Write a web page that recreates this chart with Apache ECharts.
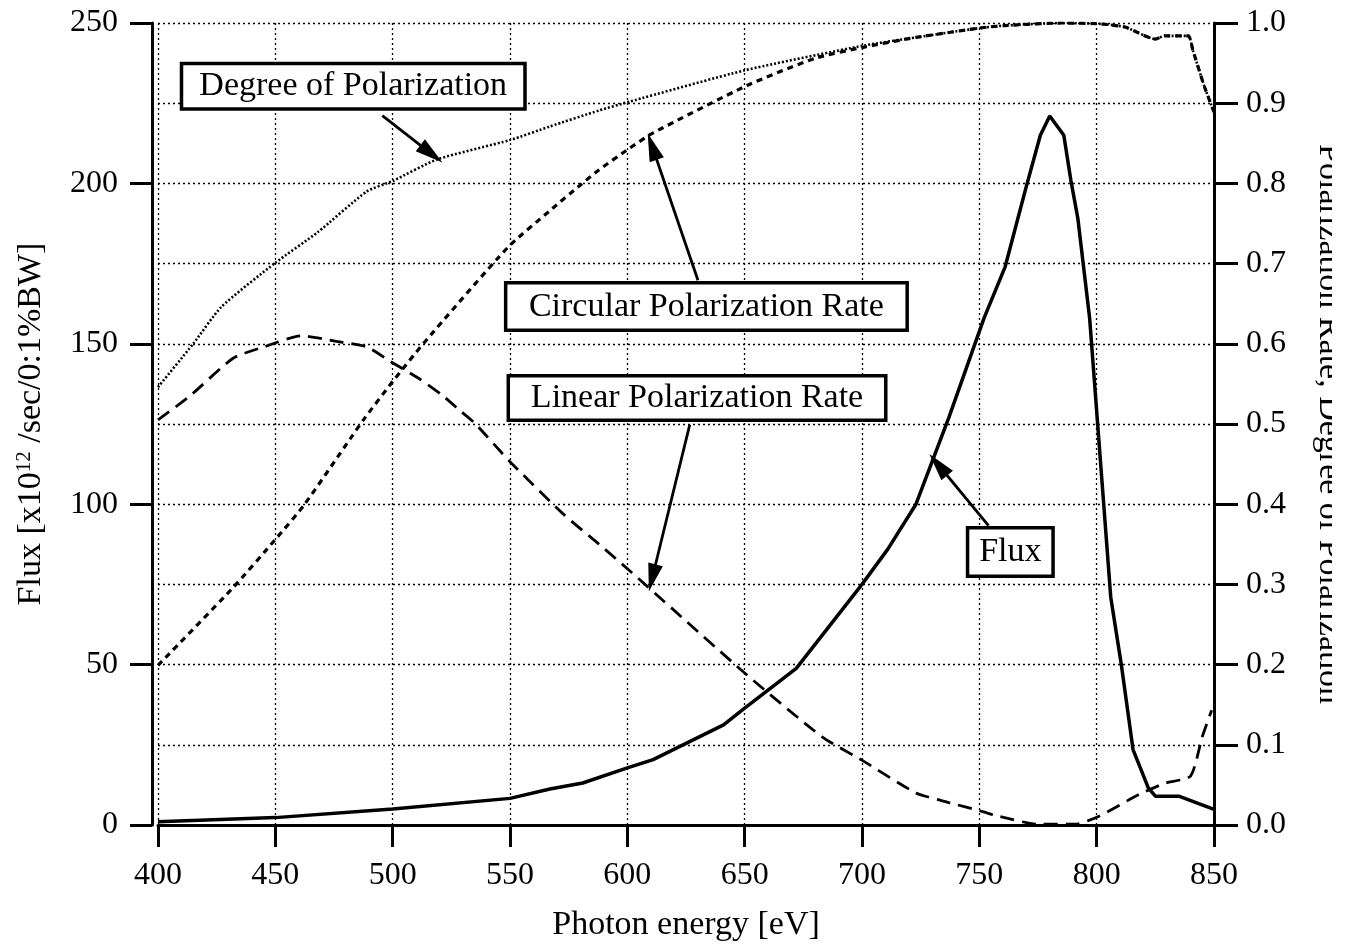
<!DOCTYPE html>
<html>
<head>
<meta charset="utf-8">
<script src="https://cdn.jsdelivr.net/npm/echarts@6/dist/echarts.min.js"></script>
<style>html,body{margin:0;padding:0;background:#fff;}#chart{width:1354px;height:947px;}</style>
</head>
<body>
<div id="chart"></div>
<script>
// ---- Data ----
const fluxEnergy = [400,450,500,550,567,581,600,611,641,650,672,700,711,723,737,752,761,770,776,780,786,789,792,797,806,810.5,815.5,822,825,835,850];
const fluxValues = [1,2.3,5,8.3,11.2,13.1,17.8,20.4,31.2,36.4,48.8,75,86,100,127,158,174,199,215,221,215,201,189,158,71,50,23.5,11.6,9,9,4.9];

const dopEnergy = [400,415,427,450,468,489,500,519,550,567,588,601,650,701,723,751,762,785,801,812,825,829,839,841,846,850];
const dopValues = [0.546,0.600,0.646,0.701,0.739,0.790,0.803,0.830,0.854,0.871,0.891,0.902,0.941,0.972,0.982,0.994,0.997,1.0,0.999,0.995,0.980,0.984,0.984,0.966,0.920,0.889];

const circEnergy = [400,432,450,462,482,488,500,513,549,567,580,588,601,611,651,680,701,723,751,762,785,801,812,825,829,839,841,846,850];
const circValues = [0.199,0.296,0.356,0.398,0.482,0.507,0.553,0.600,0.720,0.766,0.798,0.817,0.844,0.863,0.922,0.956,0.970,0.982,0.994,0.997,1.0,0.999,0.995,0.980,0.984,0.984,0.966,0.920,0.889];

const linEnergy = [400,414,432,445,461,476,489,499,511,521,529,535,550,573,588,601,651,683,701,723,737,751,758,775,791,801,818,829,840,845,849];
const linValues = [0.505,0.536,0.582,0.596,0.610,0.603,0.596,0.578,0.557,0.536,0.516,0.501,0.453,0.387,0.350,0.317,0.187,0.110,0.079,0.040,0.028,0.017,0.011,0.001,0.001,0.011,0.038,0.052,0.061,0.110,0.143];

const xTicks = [400,450,500,550,600,650,700,750,800,850];
const leftTicks = [0,50,100,150,200,250];
const rightTicks = [0.0,0.1,0.2,0.3,0.4,0.5,0.6,0.7,0.8,0.9,1.0];

// annotation labels, box centres and arrows in data units (x: eV, y: flux axis units)
const annotLabels = ['Degree of Polarization','Circular Polarization Rate','Linear Polarization Rate','Flux'];
const annotCenters = [[483.2,230.3],[633.7,161.6],[629.7,133.1],[763.2,85.1]];
const arrowFrom = [[495.6,221.1],[630.1,169.8],[626.6,124.8],[753.9,93.3]];
const arrowTo = [[516.5,209.2],[610.6,211.5],[610.6,77.0],[732.5,112.3]];

// ---- styles ----
const FONT = 'Liberation Serif';
const boxSizes = [[330,36],[388,38],[364,35],[72,39]];

const zip = (xs, ys) => xs.map((x, i) => [x, ys[i]]);

const chart = echarts.init(document.getElementById('chart'), null, {renderer:'canvas'});

const gridLine = {show:true, lineStyle:{color:'#000', width:1.3, type:[2,3]}};

const option = {
  animation:false,
  backgroundColor:'#fff',
  grid:{left:158, right:136, top:23, bottom:118, containLabel:false},
  xAxis:{
    type:'value', min:xTicks[0], max:xTicks[xTicks.length-1], interval:xTicks[1]-xTicks[0],
    name:'Photon energy [eV]', nameLocation:'middle', nameGap:83,
    nameTextStyle:{fontFamily:FONT, fontSize:34, color:'#000'},
    axisLine:{onZero:false, lineStyle:{color:'#000', width:3}},
    axisTick:{length:22, lineStyle:{color:'#000', width:3}},
    axisLabel:{margin:35, fontFamily:FONT, fontSize:32, color:'#000', showMinLabel:true, showMaxLabel:true},
    splitLine:gridLine
  },
  yAxis:[
    {
      type:'value', position:'left', offset:6, min:leftTicks[0], max:leftTicks[leftTicks.length-1], interval:leftTicks[1]-leftTicks[0],
      name:'{a|Flux [x10}{s|12}{a| /sec/0:1%BW]}', nameLocation:'middle', nameRotate:90, nameGap:104,
      nameTextStyle:{fontFamily:FONT, fontSize:34, color:'#000',
        rich:{a:{fontFamily:FONT, fontSize:34, color:'#000'}, s:{fontFamily:FONT, fontSize:21, color:'#000', verticalAlign:'top'}}},
      axisLine:{show:true, lineStyle:{color:'#000', width:3}},
      axisTick:{show:true, length:22, lineStyle:{color:'#000', width:3}},
      axisLabel:{margin:34, fontFamily:FONT, fontSize:32, color:'#000'},
      splitLine:{show:false}
    },
    {
      type:'value', position:'right', min:rightTicks[0], max:rightTicks[rightTicks.length-1], interval:0.1,
      name:'Polarization Rate, Degree of Polarization', nameLocation:'middle', nameRotate:-90, nameGap:98,
      nameTextStyle:{fontFamily:FONT, fontSize:34, color:'#000'},
      axisLine:{show:true, lineStyle:{color:'#000', width:3}},
      axisTick:{show:true, length:24, lineStyle:{color:'#000', width:3}},
      axisLabel:{margin:32, fontFamily:FONT, fontSize:32, color:'#000', formatter:v => v.toFixed(1)},
      splitLine:gridLine
    }
  ],
  graphic:[{type:'rect', right:0, top:0, shape:{width:22, height:947}, style:{fill:'#fff'}, z:100, silent:true}],
  series:[
    {
      name:'Flux', type:'line', yAxisIndex:0, data:zip(fluxEnergy, fluxValues),
      showSymbol:false, symbol:'none', smooth:false,
      lineStyle:{color:'#000', width:3.5, type:'solid'}, z:5,
      markLine:{
        silent:true, animation:false,
        lineStyle:{color:'#000', width:2.8, type:'solid'},
        label:{show:false},
        data: arrowFrom.map((f, i) => [
          {coord:f, symbol:'none'},
          {coord:arrowTo[i], symbol:'path://M5,0 L10,26 L0,26 Z', symbolSize:[15,28]}
        ])
      },
      markPoint:{
        silent:true, animation:false, symbol:'rect', symbolSize:1,
        itemStyle:{color:'rgba(0,0,0,0)'},
        label:{show:true, position:'inside', formatter:'{b}', fontFamily:FONT, fontSize:34, color:'#000',
          backgroundColor:'#fff', borderColor:'#000', borderWidth:3.5, padding:[3,5], align:'center', verticalAlign:'middle'},
        data: annotLabels.map((t, i) => ({name:t, coord:annotCenters[i], label:{width:boxSizes[i][0], height:boxSizes[i][1], lineHeight:boxSizes[i][1]}}))
      }
    },
    {
      name:'Degree of Polarization', type:'line', yAxisIndex:1, data:zip(dopEnergy, dopValues),
      showSymbol:false, symbol:'none', smooth:0.2,
      lineStyle:{color:'#000', width:2.6, type:[2,2]}
    },
    {
      name:'Circular Polarization Rate', type:'line', yAxisIndex:1, data:zip(circEnergy, circValues),
      showSymbol:false, symbol:'none', smooth:0.2,
      lineStyle:{color:'#000', width:3.2, type:[6,5]}
    },
    {
      name:'Linear Polarization Rate', type:'line', yAxisIndex:1, data:zip(linEnergy, linValues),
      showSymbol:false, symbol:'none', smooth:0.2,
      lineStyle:{color:'#000', width:2.8, type:[14,8]}
    }
  ]
};
chart.setOption(option);
</script>
</body>
</html>
